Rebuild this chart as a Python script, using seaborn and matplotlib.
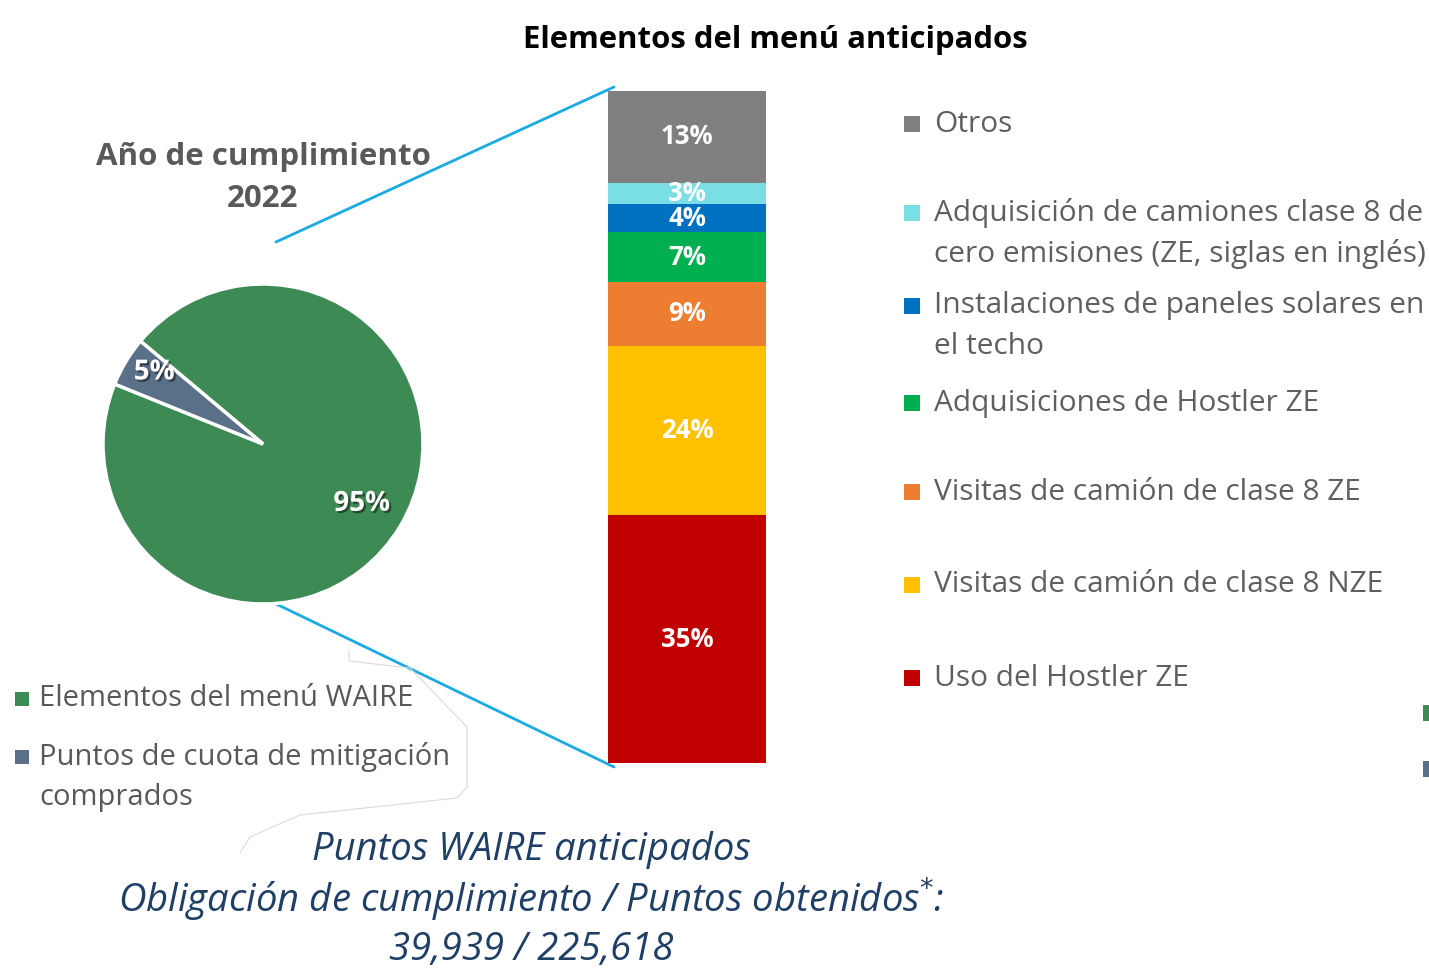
import matplotlib
matplotlib.use("Agg")
import matplotlib.pyplot as plt
import matplotlib.patheffects as pe
import seaborn as sns
import pandas as pd
import numpy as np

# pie: compliance year 2022
pie_labels = ["Elementos del menú WAIRE", "Puntos de cuota de mitigación\ncomprados"]
pie_values = [95, 5]
pie_colors = ["#3E8A55", "#5A7089"]

# stacked bar: anticipated menu items (bottom -> top)
menu_items = ["Uso del Hostler ZE",
              "Visitas de camión de clase 8 NZE",
              "Visitas de camión de clase 8 ZE",
              "Adquisiciones de Hostler ZE",
              "Instalaciones de paneles solares en\nel techo",
              "Adquisición de camiones clase 8 de\ncero emisiones (ZE, siglas en inglés)",
              "Otros"]
menu_values = [35, 24, 9, 7, 4, 3, 13]
menu_colors = ["#C00000", "#FFC000", "#ED7D31", "#00B050", "#0070C0", "#7ADFE4", "#7F7F7F"]

W, H = 1429, 969
sns.set_theme(style="white")
plt.rcParams['font.family'] = ['Open Sans', 'DejaVu Sans']

fig = plt.figure(figsize=(W / 100, H / 100), dpi=100)

def box(l, t, r, b):
    return [l / W, 1 - b / H, (r - l) / W, (b - t) / H]

# ---- pie
ax_pie = fig.add_axes(box(103, 284, 423, 604))
wedges, _, autotexts = ax_pie.pie(pie_values, colors=pie_colors, startangle=158, counterclock=True,
                                   autopct=lambda p: f"{p:.0f}%", pctdistance=0.72,
                                   wedgeprops=dict(edgecolor="white", linewidth=2.5),
                                   textprops=dict(color="white", fontsize=20, fontweight="bold"))
ax_pie.set_xlim(-1, 1)
ax_pie.set_ylim(-1, 1)
autotexts[1].set_position((-0.68, 0.45))
for t in autotexts:
    t.set_path_effects([pe.withSimplePatchShadow(offset=(1.5, -1.5), shadow_rgbFace="black", alpha=0.45)])

# ---- stacked bar
ax_bar = fig.add_axes(box(608, 91, 766, 763))
cum = np.cumsum(menu_values)
df = pd.DataFrame({"grupo": ["total"] * len(menu_values), "cum": cum, "item": menu_items})
for i in range(len(menu_values) - 1, -1, -1):
    sns.barplot(data=df.iloc[[i]], x="grupo", y="cum", color=menu_colors[i], saturation=1,
                width=1, ax=ax_bar, linewidth=0)
ax_bar.set_xlim(-0.5, 0.5)
ax_bar.set_ylim(0, cum[-1])
ax_bar.axis("off")
bottoms = cum - np.array(menu_values)
for v, b in zip(menu_values, bottoms):
    ax_bar.text(0, b + v / 2, f"{v}%", ha="center", va="center", color="white",
                fontsize=18.5, fontweight="bold")

# ---- overlay for texts, legends and connectors (pixel coords)
ov = fig.add_axes([0, 0, 1, 1], zorder=-1)
ov.set_xlim(0, W)
ov.set_ylim(H, 0)
ov.axis("off")
ov.patch.set_alpha(0)

ov.plot([276, 614], [242, 87], color="#1AABE3", lw=2)
ov.plot([270, 614], [601, 767], color="#1AABE3", lw=2)
ov.plot([349, 349, 410, 467, 467, 457, 300, 250, 240],
        [650, 661, 668, 727, 787, 798, 815, 837, 853], color="#DADADA", lw=0.8)

fig.text(775 / W, 1 - 40 / H, "Elementos del menú anticipados", ha="center", va="center",
         fontsize=22.4, fontweight="bold", color="black")
fig.text(263 / W, 1 - 178 / H, "Año de cumplimiento\n2022", ha="center", va="center",
         fontsize=22.5, fontweight="bold", color="#595959", linespacing=1.55)

# right legend
leg_rows = [678, 585, 492, 403, 306, 213, 124]
for lab, col, y in zip(menu_items, menu_colors, leg_rows):
    ov.scatter([912], [y], marker="s", s=130, color=col, linewidths=0)
    for k, line in enumerate(lab.split("\n")):
        ov.text(934, y + 41 * k, line, ha="left", va="center", fontsize=21.5, color="#5F5F5F")

# left legend
for lab, col, y in zip(pie_labels, pie_colors, [699, 757]):
    ov.scatter([22], [y], marker="s", s=110, color=col, linewidths=0)
    for k, line in enumerate(lab.split("\n")):
        ov.text(39, y + 41 * k, line, ha="left", va="center", fontsize=21, color="#595959")

# clipped markers at right edge
ov.scatter([1431, 1431], [713, 769], marker="s", s=120, color=pie_colors, linewidths=0, clip_on=False)

# bottom note
note = ["Puntos WAIRE anticipados",
        "Obligación de cumplimiento / Puntos obtenidos$^{*}$:",
        "39,939 / 225,618"]
for line, y in zip(note, [850, 900, 950]):
    fig.text(531 / W, 1 - y / H, line, ha="center", va="center", fontsize=27.5,
             style="italic", color="#1F3F66")

fig.savefig("out.png", dpi=100)
